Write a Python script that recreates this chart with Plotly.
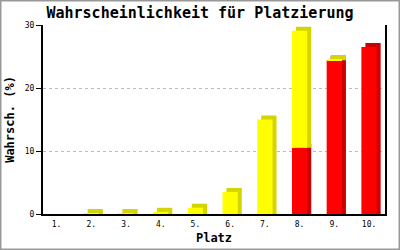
import plotly.graph_objects as go

categories = ["1.", "2.", "3.", "4.", "5.", "6.", "7.", "8.", "9.", "10."]
red_values = [0, 0, 0, 0, 0, 0, 0, 10.5, 24.4, 26.5]
yellow_values = [0, 0.15, 0.15, 0.35, 1.0, 3.5, 15.0, 18.6, 0.2, 0]

W, H = 400, 250
ML, MR, MT, MB = 43, 15, 25, 36
PW, PH = W - ML - MR, H - MT - MB

xpos = list(range(1, len(categories) + 1))
xr = [0.61, 10.46]
yr = [0, 30]
bw = 0.44
dx = 4 * (xr[1] - xr[0]) / PW
dy = 4 * (yr[1] - yr[0]) / PH

# depth faces derived from the values
red_shadow_h = [r + dy if r > 0 else 0 for r in red_values]
yel_shadow_h = [y + dy if y > 0 else 0 for y in yellow_values]

fig = go.Figure()
fig.add_trace(go.Bar(x=xpos, y=red_shadow_h, base=[0] * len(xpos), width=bw, offset=-bw / 2 + dx,
                     marker=dict(color="#cc0000", line=dict(width=0)), hoverinfo="skip", showlegend=False))
fig.add_trace(go.Bar(x=xpos, y=yel_shadow_h, base=red_values, width=bw, offset=-bw / 2 + dx,
                     marker=dict(color="#d4d400", line=dict(width=0)), hoverinfo="skip", showlegend=False))
fig.add_trace(go.Bar(x=xpos, y=red_values, base=[0] * len(xpos), width=bw, offset=-bw / 2,
                     marker=dict(color="#ff0000", line=dict(width=0)), hoverinfo="skip", showlegend=False))
fig.add_trace(go.Bar(x=xpos, y=yellow_values, base=red_values, width=bw, offset=-bw / 2,
                     marker=dict(color="#ffff00", line=dict(width=0)), hoverinfo="skip", showlegend=False))

mono = "DejaVu Sans Mono"
fig.update_layout(
    width=W, height=H, barmode="overlay",
    margin=dict(l=ML, r=MR, t=MT, b=MB),
    paper_bgcolor="white", plot_bgcolor="white",
    title=dict(text="<b>Wahrscheinlichkeit für Platzierung</b>", x=0.5, xanchor="center",
               y=1 - 13 / H, yanchor="middle", font=dict(family=mono, size=15, color="black")),
    xaxis=dict(range=xr, tickvals=xpos, ticktext=categories, showgrid=False, zeroline=False,
               showline=True, linecolor="black", linewidth=2, ticks="", ticklabelstandoff=1,
               automargin=False,
               tickfont=dict(family=mono, size=8, color="black"),
               title=dict(text="<b>Platz</b>", font=dict(family=mono, size=12, color="black"), standoff=6)),
    yaxis=dict(range=yr, tickvals=[0, 10, 20, 30], showgrid=True, gridcolor="#bbbbbb", griddash="dot",
               gridwidth=1, zeroline=False, showline=True, mirror=True, linecolor="black", linewidth=2,
               ticks="outside", ticklen=5, tickcolor="black", tickwidth=1, automargin=False,
               tickfont=dict(family=mono, size=8, color="black"),
               title=dict(text="<b>Wahrsch. (%)</b>", font=dict(family=mono, size=12, color="black"), standoff=8)),
    shapes=[dict(type="rect", xref="paper", yref="paper",
                 x0=-ML / PW + 0.5 / PW, x1=1 + MR / PW - 0.5 / PW,
                 y0=-MB / PH + 0.5 / PH, y1=1 + MT / PH - 0.5 / PH,
                 line=dict(color="#999999", width=2), layer="above")],
)

fig.write_html("out.html")
